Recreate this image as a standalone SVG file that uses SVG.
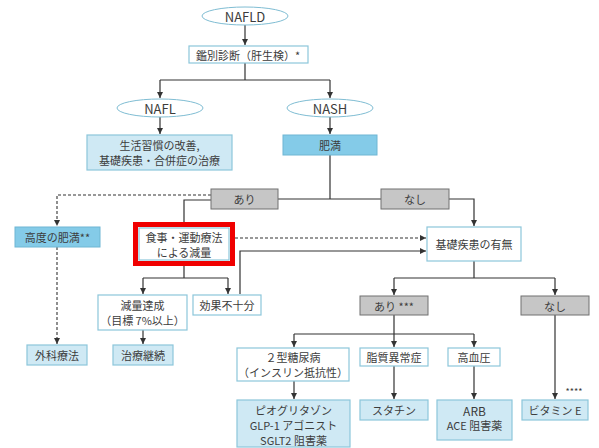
<svg xmlns="http://www.w3.org/2000/svg" width="599" height="448" viewBox="0 0 599 448">
<style>
text{font-family:"Noto Sans CJK JP","Liberation Sans",sans-serif;font-size:11px;fill:#3c3c3c;text-anchor:middle;dominant-baseline:central}
.big{font-size:13px}
.mid{font-size:12px}
.ell{fill:#fff;stroke:#7fbdd3;stroke-width:1}
.wb{fill:#fff;stroke:#8cc6da;stroke-width:1.2}
.lb{fill:#cfe9f4;stroke:#8cc6da;stroke-width:1.2}
.db{fill:#84cbe8;stroke:#6fb6d3;stroke-width:1}
.gb{fill:#c6c6c6;stroke:#707070;stroke-width:1}
.ln{fill:none;stroke:#333;stroke-width:1.2}
.dl{fill:none;stroke:#333;stroke-width:1.1;stroke-dasharray:3,2}
.a{marker-end:url(#ah)}
</style>
<defs>
<marker id="ah" markerUnits="userSpaceOnUse" markerWidth="7" markerHeight="7" refX="6" refY="3" orient="auto"><path d="M0,0 L6,3 L0,6 z" fill="#333"/></marker>
</defs>
<rect width="599" height="448" fill="#fff"/>
<g id="connectors">
<path class="ln a" d="M245,25 V45"/>
<path class="ln" d="M245,63 V80 M160,80 H330"/>
<path class="ln a" d="M160,80 V98"/>
<path class="ln a" d="M330,80 V98"/>
<path class="ln a" d="M160,117 V134"/>
<path class="ln a" d="M330,117 V134"/>
<path class="ln" d="M330,155 V199 M278,199 H381"/>
<path class="ln a" d="M449,199 H474 V226"/>
<path class="dl a" d="M211,195 H57 V226"/>
<path class="ln" d="M211,200 H184 V222"/>
<path class="dl a" d="M57,247 V344"/>
<path class="dl a" d="M235,238 H426"/>
<path class="ln a" d="M240,294 V251 H426"/>
<path class="ln" d="M184,266 V278 M143,278 H228"/>
<path class="ln a" d="M143,278 V294"/>
<path class="ln a" d="M228,278 V294"/>
<path class="ln a" d="M143,330 V344"/>
<path class="ln" d="M474,261 V278 M394,278 H555"/>
<path class="ln a" d="M394,278 V295"/>
<path class="ln a" d="M555,278 V295"/>
<path class="ln" d="M394,315 V334 M294,334 H474"/>
<path class="ln a" d="M294,334 V347"/>
<path class="ln a" d="M394,334 V347"/>
<path class="ln a" d="M474,334 V347"/>
<path class="ln a" d="M294,381 V399"/>
<path class="ln a" d="M394,366 V399"/>
<path class="ln a" d="M474,366 V399"/>
<path class="ln a" d="M555,315 V399"/>
</g>
<g id="nafld"><ellipse class="ell" cx="245" cy="16" rx="43" ry="9"/><text class="big" x="245" y="16">NAFLD</text></g>
<g id="kanbetsu"><rect class="wb" x="189" y="46" width="119" height="17"/><text x="248" y="54.5">鑑別診断（肝生検）*</text></g>
<g id="nafl"><ellipse class="ell" cx="160" cy="108" rx="43" ry="9"/><text class="big" x="160" y="108">NAFL</text></g>
<g id="nash"><ellipse class="ell" cx="330" cy="108" rx="43" ry="9"/><text class="big" x="330" y="108">NASH</text></g>
<g id="seikatsu"><rect class="lb" x="87" y="135" width="145" height="35"/><text x="159.5" y="145">生活習慣の改善,</text><text x="159.5" y="160">基礎疾患・合併症の治療</text></g>
<g id="himan"><rect class="db" x="283" y="135" width="94" height="20"/><text x="330" y="145">肥満</text></g>
<g id="ari1"><rect class="gb" x="211" y="189" width="67" height="20"/><text x="244.5" y="199">あり</text></g>
<g id="nashi1"><rect class="gb" x="381" y="189" width="68" height="20"/><text x="415" y="199">なし</text></g>
<g id="koudo"><rect class="db" x="15" y="227" width="85" height="20"/><text x="57.5" y="237">高度の肥満**</text></g>
<g id="shokuji"><rect x="135.5" y="224.5" width="97" height="39" fill="#fff" stroke="#f00000" stroke-width="5"/><rect class="wb" x="139" y="228" width="90" height="32"/><text x="184" y="237">食事・運動療法</text><text x="184" y="252">による減量</text></g>
<g id="kiso"><rect class="wb" x="427" y="227" width="94" height="34"/><text x="474" y="244">基礎疾患の有無</text></g>
<g id="genryo"><rect class="wb" x="98" y="295" width="89" height="35"/><text x="142.5" y="305">減量達成</text><text x="142.5" y="320">（目標 7%以上）</text></g>
<g id="kouka"><rect class="wb" x="193" y="295" width="68" height="20"/><text x="227" y="305">効果不十分</text></g>
<g id="ari2"><rect class="gb" x="360" y="296" width="68" height="19"/><text x="394" y="305.5">あり ***</text></g>
<g id="nashi2"><rect class="gb" x="521" y="296" width="68" height="19"/><text x="555" y="305.5">なし</text></g>
<g id="geka"><rect class="lb" x="27" y="345" width="60" height="20"/><text x="57" y="355">外科療法</text></g>
<g id="keizoku"><rect class="lb" x="113" y="345" width="60" height="20"/><text x="143" y="355">治療継続</text></g>
<g id="tonyo"><rect class="wb" x="237" y="348" width="112" height="33"/><text x="293" y="357">２型糖尿病</text><text x="293" y="372">（インスリン抵抗性）</text></g>
<g id="shishitsu"><rect class="wb" x="360" y="348" width="68" height="18"/><text x="394" y="357">脂質異常症</text></g>
<g id="kouketsuatsu"><rect class="wb" x="448" y="348" width="52" height="18"/><text x="474" y="357">高血圧</text></g>
<g id="pio"><rect class="lb" x="237" y="400" width="113" height="47"/><text x="293.5" y="409.5">ピオグリタゾン</text><text x="293.5" y="424.5">GLP-1 アゴニスト</text><text x="293.5" y="439.5">SGLT2 阻害薬</text></g>
<g id="statin"><rect class="lb" x="360" y="400" width="68" height="20"/><text x="394" y="410">スタチン</text></g>
<g id="arb"><rect class="lb" x="437" y="400" width="75" height="40"/><text class="mid" x="474.5" y="410">ARB</text><text x="474.5" y="425">ACE 阻害薬</text></g>
<g id="vitamin"><rect class="lb" x="522" y="400" width="66" height="20"/><text x="555" y="410">ビタミン E</text><text x="574" y="391" style="font-size:9px">****</text></g>
</svg>
